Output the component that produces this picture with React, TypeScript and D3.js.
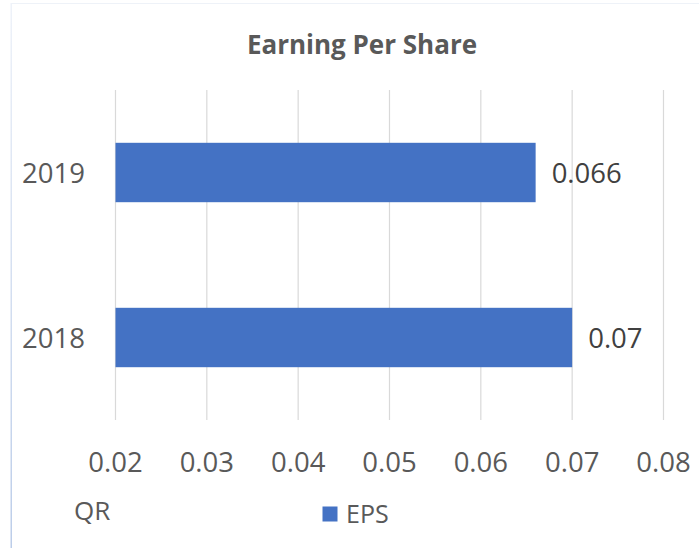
import React from "react";
import * as d3 from "d3";

const categories = ["2019", "2018"];
const epsValues = [0.066, 0.07];
const dataLabels = ["0.066", "0.07"];
const xTicks = [0.02, 0.03, 0.04, 0.05, 0.06, 0.07, 0.08];
const xTickLabels = ["0.02", "0.03", "0.04", "0.05", "0.06", "0.07", "0.08"];
const titleText = "Earning Per Share";
const unitText = "QR";
const seriesName = "EPS";

const W = 699;
const H = 548;
const FONT = "'Open Sans', sans-serif";
const TEXT = "#595959";
const BAR = "#4472C4";

export default function App() {
  const x = d3.scaleLinear().domain([0.02, 0.08]).range([115.5, 663.5]);
  const y = d3.scaleBand().domain(categories).range([90, 420]).paddingInner(0.64).paddingOuter(0.32);

  return (
    <svg
      width={W}
      height={H}
      style={{ position: "fixed", left: 0, top: 0, background: "#fff" }}
      fontFamily={FONT}
    >
      <defs>
        <linearGradient id="lb" x1="0" y1="0" x2="0" y2="1">
          <stop offset="0" stopColor="#eef2f9" />
          <stop offset="1" stopColor="#bccde9" />
        </linearGradient>
      </defs>
      <rect x={0} y={0} width={W} height={H} fill="#fff" />
      <line x1={11.5} y1={3.5} x2={W} y2={3.5} stroke="#eef2f8" strokeWidth={1} />
      <rect x={10.5} y={3} width={1.5} height={H - 3} fill="url(#lb)" />

      <text x={362} y={54} textAnchor="middle" fill={TEXT} fontWeight="bold" fontSize={26}>
        {titleText}
      </text>

      {xTicks.map((t) => (
        <line key={"g" + t} x1={x(t)} x2={x(t)} y1={90} y2={420} stroke="#d9d9d9" strokeWidth={1.2} />
      ))}

      {categories.map((c, i) => (
        <g key={c}>
          <rect
            x={x(0.02)}
            y={y(c)!}
            width={x(epsValues[i]) - x(0.02)}
            height={y.bandwidth()}
            fill={BAR}
          />
          <text
            x={x(epsValues[i]) + 16}
            y={y(c)! + y.bandwidth() / 2 + 10}
            fill="#404040"
            fontSize={27.5}
          >
            {dataLabels[i]}
          </text>
          <text x={85} y={y(c)! + y.bandwidth() / 2 + 10} textAnchor="end" fill={TEXT} fontSize={27.5}>
            {c}
          </text>
        </g>
      ))}

      {xTicks.map((t, i) => (
        <text key={"t" + t} x={x(t)} y={471.5} textAnchor="middle" fill={TEXT} fontSize={27.5}>
          {xTickLabels[i]}
        </text>
      ))}

      <text x={74} y={519.5} fill={TEXT} fontSize={26}>
        {unitText}
      </text>

      <rect x={322.5} y={506.5} width={15} height={15} fill={BAR} />
      <text x={346} y={523.3} fill={TEXT} fontSize={25}>
        {seriesName}
      </text>
    </svg>
  );
}
